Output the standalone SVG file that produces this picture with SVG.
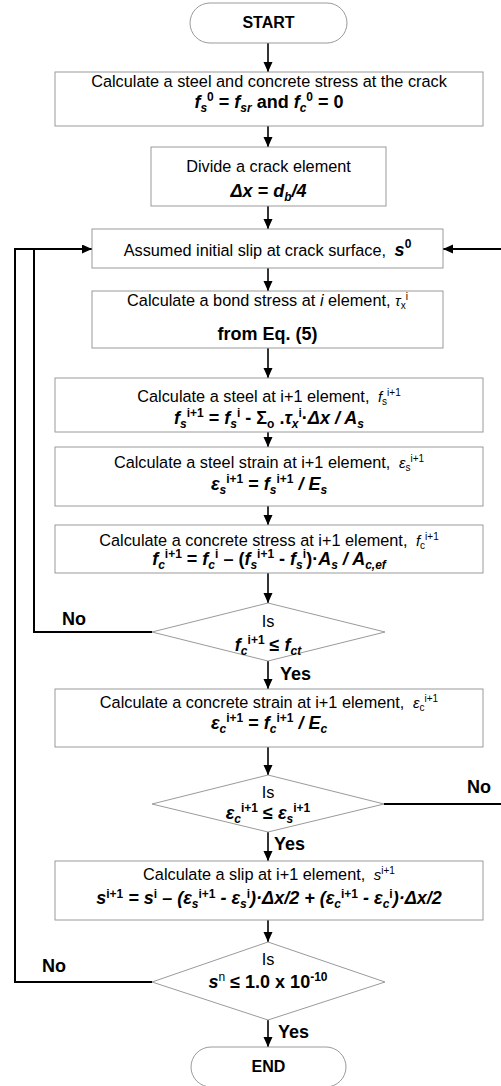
<svg xmlns="http://www.w3.org/2000/svg" width="501" height="1086" viewBox="0 0 501 1086">
<style>
text{font-family:"Liberation Sans",Arial,Helvetica,sans-serif;fill:#000;text-anchor:middle}
.t{font-size:16.3px}
.f{font-size:18px;font-weight:bold}
.b{font-size:16px;font-weight:bold}
.l{font-size:18px;font-weight:bold;text-anchor:start}
.i{font-style:italic}
.s{font-size:12px}
.m{font-size:15px;font-style:italic}
.ms{font-size:10px;font-style:normal}
.box{fill:#fff;stroke:#9a9a9a;stroke-width:1}
.c{fill:none;stroke:#000;stroke-width:1.6}
.lp{fill:none;stroke:#000;stroke-width:2}
</style>
<defs>
<marker id="ah" markerUnits="userSpaceOnUse" markerWidth="10" markerHeight="10" refX="10" refY="4.5" orient="auto">
<path d="M0,0 L10,4.5 L0,9 z" fill="#000"/>
</marker>
</defs>
<g id="connectors">
<line class="c" x1="268" y1="43" x2="268" y2="72" marker-end="url(#ah)"/>
<line class="c" x1="268" y1="126" x2="268" y2="147" marker-end="url(#ah)"/>
<line class="c" x1="268" y1="206" x2="268" y2="229" marker-end="url(#ah)"/>
<line class="c" x1="268" y1="268" x2="268" y2="291" marker-end="url(#ah)"/>
<line class="c" x1="268" y1="348" x2="268" y2="378" marker-end="url(#ah)"/>
<line class="c" x1="268" y1="432" x2="268" y2="447" marker-end="url(#ah)"/>
<line class="c" x1="268" y1="506" x2="268" y2="525" marker-end="url(#ah)"/>
<line class="c" x1="268" y1="573" x2="268" y2="603" marker-end="url(#ah)"/>
<line class="c" x1="268" y1="661" x2="268" y2="689" marker-end="url(#ah)"/>
<line class="c" x1="268" y1="747" x2="268" y2="775" marker-end="url(#ah)"/>
<line class="c" x1="268" y1="832" x2="268" y2="861" marker-end="url(#ah)"/>
<line class="c" x1="268" y1="920" x2="268" y2="942" marker-end="url(#ah)"/>
<line class="c" x1="268" y1="1020" x2="268" y2="1047" marker-end="url(#ah)"/>
<polyline class="lp" points="152,632 34,632 34,249"/>
<polyline class="lp" points="152,982 15,982 15,249 92,249" marker-end="url(#ah)"/>
<polyline class="lp" points="384,804 504,804 504,249 443,249" marker-end="url(#ah)"/>
<text class="l" x="62" y="625">No</text>
<text class="l" x="280" y="680">Yes</text>
<text class="l" x="467" y="793">No</text>
<text class="l" x="274" y="850">Yes</text>
<text class="l" x="42" y="972">No</text>
<text class="l" x="278" y="1038">Yes</text>
</g>
<g id="start">
<rect class="box" x="190" y="3" width="157" height="40" rx="20"/>
<text class="b" x="268.5" y="28">START</text>
</g>
<g id="n1">
<rect class="box" x="55" y="72" width="428" height="54"/>
<text class="t" x="269" y="87">Calculate a steel and concrete stress at the crack</text>
<text class="f" x="269" y="108"><tspan class="i">f</tspan><tspan class="s i" dy="4">s</tspan><tspan class="s" dy="-11">0</tspan><tspan dy="7"> = </tspan><tspan class="i">f</tspan><tspan class="s i" dy="4">sr</tspan><tspan dy="-4"> and </tspan><tspan class="i">f</tspan><tspan class="s i" dy="4">c</tspan><tspan class="s" dy="-11">0</tspan><tspan dy="7"> = 0</tspan></text>
</g>
<g id="n2">
<rect class="box" x="151" y="147" width="235" height="59"/>
<text class="t" x="268.5" y="172">Divide a crack element</text>
<text class="f i" x="268.5" y="197">Δx = d<tspan class="s" dy="4">b</tspan><tspan dy="-4">/4</tspan></text>
</g>
<g id="n3">
<rect class="box" x="92" y="229" width="351" height="39"/>
<text class="t" x="267.5" y="256">Assumed initial slip at crack surface, <tspan class="f i" dx="4">s</tspan><tspan class="s" font-weight="bold" dy="-8">0</tspan></text>
</g>
<g id="n4">
<rect class="box" x="92" y="291" width="351" height="57"/>
<text class="t" x="267.5" y="306">Calculate a bond stress at <tspan class="i">i</tspan> element, <tspan class="m">τ</tspan><tspan class="ms i" dy="3">x</tspan><tspan class="ms" dy="-9">i</tspan></text>
<text class="f" x="267.5" y="340">from Eq. (5)</text>
</g>
<g id="n5">
<rect class="box" x="55" y="378" width="428" height="54"/>
<text class="t" x="269" y="402">Calculate a steel at i+1 element, <tspan class="m" dx="4">f</tspan><tspan class="ms i" dy="3">s</tspan><tspan class="ms" dy="-9">i+1</tspan></text>
<text class="f" x="269" y="424"><tspan class="i">f</tspan><tspan class="s i" dy="4">s</tspan><tspan class="s" dy="-11">i+1</tspan><tspan dy="7"> = </tspan><tspan class="i">f</tspan><tspan class="s i" dy="4">s</tspan><tspan class="s" dy="-11">i</tspan><tspan dy="7"> - Σ</tspan><tspan class="s" dy="4">o</tspan><tspan dy="-4"> .</tspan><tspan class="i">τ</tspan><tspan class="s i" dy="4">x</tspan><tspan class="s" dy="-11">i</tspan><tspan dy="7">·</tspan><tspan class="i">Δx / A</tspan><tspan class="s i" dy="4">s</tspan></text>
</g>
<g id="n6">
<rect class="box" x="55" y="447" width="428" height="59"/>
<text class="t" x="269" y="468">Calculate a steel strain at i+1 element, <tspan class="m" dx="4">ε</tspan><tspan class="ms i" dy="3">s</tspan><tspan class="ms" dy="-9">i+1</tspan></text>
<text class="f" x="269" y="490"><tspan class="i">ε</tspan><tspan class="s i" dy="4">s</tspan><tspan class="s" dy="-11">i+1</tspan><tspan dy="7"> = </tspan><tspan class="i">f</tspan><tspan class="s i" dy="4">s</tspan><tspan class="s" dy="-11">i+1</tspan><tspan class="i" dy="7"> / E</tspan><tspan class="s i" dy="4">s</tspan></text>
</g>
<g id="n7">
<rect class="box" x="55" y="525" width="428" height="48"/>
<text class="t" x="269" y="546">Calculate a concrete stress at i+1 element, <tspan class="m" dx="4">f</tspan><tspan class="ms i" dy="3">c</tspan><tspan class="ms" dy="-9">i+1</tspan></text>
<text class="f" x="269" y="565"><tspan class="i">f</tspan><tspan class="s i" dy="4">c</tspan><tspan class="s" dy="-11">i+1</tspan><tspan dy="7"> = </tspan><tspan class="i">f</tspan><tspan class="s i" dy="4">c</tspan><tspan class="s" dy="-11">i</tspan><tspan dy="7"> – (</tspan><tspan class="i">f</tspan><tspan class="s i" dy="4">s</tspan><tspan class="s" dy="-11">i+1</tspan><tspan dy="7"> - </tspan><tspan class="i">f</tspan><tspan class="s i" dy="4">s</tspan><tspan class="s" dy="-11">i</tspan><tspan dy="7">)·</tspan><tspan class="i">A</tspan><tspan class="s i" dy="4">s</tspan><tspan class="i" dy="-4"> / A</tspan><tspan class="s i" dy="4">c,ef</tspan></text>
</g>
<g id="d1">
<polygon class="box" points="268,603 385,632 268,661 152,632"/>
<text class="t" x="268" y="627">Is</text>
<text class="f" x="268" y="651"><tspan class="i">f</tspan><tspan class="s i" dy="4">c</tspan><tspan class="s" dy="-11">i+1</tspan><tspan dy="7"> ≤ </tspan><tspan class="i">f</tspan><tspan class="s i" dy="4">ct</tspan></text>
</g>
<g id="n8">
<rect class="box" x="55" y="689" width="428" height="58"/>
<text class="t" x="269" y="708">Calculate a concrete strain at i+1 element, <tspan class="m" dx="4">ε</tspan><tspan class="ms i" dy="3">c</tspan><tspan class="ms" dy="-9">i+1</tspan></text>
<text class="f" x="269" y="729"><tspan class="i">ε</tspan><tspan class="s i" dy="4">c</tspan><tspan class="s" dy="-11">i+1</tspan><tspan dy="7"> = </tspan><tspan class="i">f</tspan><tspan class="s i" dy="4">c</tspan><tspan class="s" dy="-11">i+1</tspan><tspan class="i" dy="7"> / E</tspan><tspan class="s i" dy="4">c</tspan></text>
</g>
<g id="d2">
<polygon class="box" points="268,775 384,804 268,832 152,804"/>
<text class="t" x="268" y="798">Is</text>
<text class="f" x="268" y="819"><tspan class="i">ε</tspan><tspan class="s i" dy="4">c</tspan><tspan class="s" dy="-11">i+1</tspan><tspan dy="7"> ≤ </tspan><tspan class="i">ε</tspan><tspan class="s i" dy="4">s</tspan><tspan class="s" dy="-11">i+1</tspan></text>
</g>
<g id="n9">
<rect class="box" x="55" y="861" width="428" height="59"/>
<text class="t" x="269" y="880">Calculate a slip at i+1 element, <tspan class="m" dx="4">s</tspan><tspan class="ms" dy="-6">i+1</tspan></text>
<text class="f i" x="269" y="904">s<tspan class="s" font-style="normal" dy="-6">i+1</tspan><tspan dy="6"> = s</tspan><tspan class="s" font-style="normal" dy="-6">i</tspan><tspan dy="6"> – (ε</tspan><tspan class="s" dy="4">s</tspan><tspan class="s" font-style="normal" dy="-10">i+1</tspan><tspan dy="6"> - ε</tspan><tspan class="s" dy="4">s</tspan><tspan class="s" font-style="normal" dy="-10">i</tspan><tspan dy="6">)·Δx/2 + (ε</tspan><tspan class="s" dy="4">c</tspan><tspan class="s" font-style="normal" dy="-10">i+1</tspan><tspan dy="6"> - ε</tspan><tspan class="s" dy="4">c</tspan><tspan class="s" font-style="normal" dy="-10">i</tspan><tspan dy="6">)·Δx/2</tspan></text>
</g>
<g id="d3">
<polygon class="box" points="268,942 385,982 268,1020 152,982"/>
<text class="t" x="268" y="965">Is</text>
<text class="f" x="268" y="988"><tspan class="i">s</tspan><tspan class="s" font-weight="normal" dy="-7">n</tspan><tspan dy="7"> ≤ 1.0 x 10</tspan><tspan class="s" dy="-7">-10</tspan></text>
</g>
<g id="end">
<rect class="box" x="191" y="1047" width="155" height="40" rx="20"/>
<text class="b" x="268.5" y="1072">END</text>
</g>
</svg>
